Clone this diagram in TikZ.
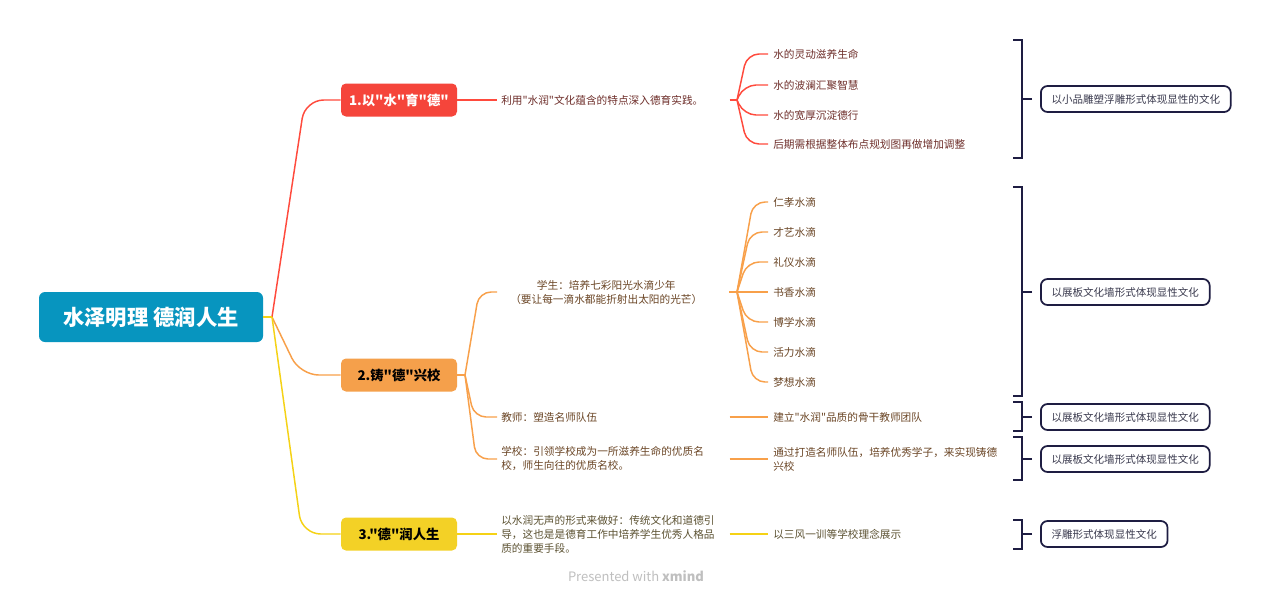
\documentclass[tikz,border=0pt]{standalone}
\usepackage{fontspec}
\setmainfont{Noto Sans CJK SC}[Ligatures=TeXOff]
\usetikzlibrary{calc}
\definecolor{rootc}{HTML}{0795BF}
\definecolor{redc}{HTML}{F5453B}
\definecolor{redl}{HTML}{FF4A3D}
\definecolor{orc}{HTML}{F5A04B}
\definecolor{orl}{HTML}{F8A04A}
\definecolor{yec}{HTML}{F3D126}
\definecolor{yel}{HTML}{F5D215}
\definecolor{navy}{HTML}{1E1D42}
\definecolor{tagtxt}{HTML}{3A3A4E}
\definecolor{rtxt}{HTML}{6E2E2A}
\definecolor{otxt}{HTML}{6B4626}
\definecolor{ytxt}{HTML}{5C5232}
\tikzset{
  rootbox/.style={fill=rootc, rounded corners=4.5pt, text=white, font=\fontsize{16}{19}\selectfont\bfseries, minimum width=168pt, minimum height=37.5pt, inner sep=0pt},
  brbox/.style={rounded corners=3.75pt, font=\fontsize{10}{12}\selectfont\bfseries, minimum width=87pt, minimum height=24.75pt, inner sep=0pt},
  subnode/.style={anchor=west, text width=168pt, inner xsep=3pt, inner ysep=0pt, align=left, font=\fontsize{8}{10.5}\selectfont},
  leaf/.style={anchor=west, inner xsep=3.75pt, inner ysep=0pt, align=left, font=\fontsize{8}{10.5}\selectfont},
  tag/.style={anchor=west, draw=navy, line width=1.3pt, rounded corners=5pt, inner xsep=8pt, minimum height=19.5pt, inner ysep=0pt, text=tagtxt, font=\fontsize{7.9}{10.5}\selectfont},
  ln/.style={line width=1.1pt},
  conn/.style={line width=1.1pt, rounded corners=14pt},
  sconn/.style={line width=1.1pt, rounded corners=9pt},
  brk/.style={draw=navy, line width=1.5pt},
}
\begin{document}
\begin{tikzpicture}[x=0.75pt,y=-0.75pt]
\useasboundingbox[fill=white] (0,0) rectangle (1273,600);

% root
\node[rootbox] (root) at (151,317) {水泽明理 德润人生};
\coordinate (rf) at (272,317);

% branches
\node[brbox, fill=redc, text=white] (b1) at (399,100) {1.以"水"育"德"};
\node[brbox, fill=orc, text=black] (b2) at (399,375) {2.铸"德"兴校};
\node[brbox, fill=yec, text=black] (b3) at (399,534) {3."德"润人生};

\draw[conn, draw=redl] (rf) -- (305,100) -- (b1.west);
\draw[conn, draw=orl] (rf) -- (300,375) -- (b2.west);
\draw[conn, draw=yel] (rf) -- (302,534) -- (b3.west);
\draw[ln, draw=yel] (root.east) -- (rf);

% ---------- branch 1
\node[subnode, text=rtxt] (s1) at (497,100) {利用"水润"文化蕴含的特点深入德育实践。};
\draw[ln, draw=redl] (b1.east) -- (s1.west);
\coordinate (f1) at (737,100);
\node[leaf, text=rtxt] (l11) at (768,54) {水的灵动滋养生命};
\node[leaf, text=rtxt] (l12) at (768,85) {水的波澜汇聚智慧};
\node[leaf, text=rtxt] (l13) at (768,115) {水的宽厚沉淀德行};
\node[leaf, text=rtxt] (l14) at (768,144) {后期需根据整体布点规划图再做增加调整};
\draw[ln, draw=redl] (s1.east) -- (f1);
\draw[sconn, draw=redl] (f1) -- (747,54) -- (l11.west);
\draw[sconn, draw=redl] (f1) -- (744,85) -- (l12.west);
\draw[sconn, draw=redl] (f1) -- (744,115) -- (l13.west);
\draw[sconn, draw=redl] (f1) -- (747,144) -- (l14.west);

% ---------- branch 2
\coordinate (f2) at (465,375);
\node[subnode, text=otxt, align=center] (s21) at (490,292) {学生：培养七彩阳光水滴少年\\（要让每一滴水都能折射出太阳的光芒）};
\coordinate (s21w) at (497,292);
\node[subnode, text=otxt] (s22) at (497,417) {教师：塑造名师队伍};
\node[subnode, text=otxt] (s23) at (497,459) {学校：引领学校成为一所滋养生命的优质名\\校，师生向往的优质名校。};
\draw[ln, draw=orl] (b2.east) -- (f2);
\draw[sconn, draw=orl] (f2) -- (479,292) -- (s21w);
\draw[sconn, draw=orl] (f2) -- (474,417) -- (s22.west);
\draw[sconn, draw=orl] (f2) -- (476,459) -- (s23.west);

\coordinate (f21) at (737,292);
\coordinate (s21e) at (729,292);
\node[leaf, text=otxt] (l1) at (768,202) {仁孝水滴};
\node[leaf, text=otxt] (l2) at (768,232) {才艺水滴};
\node[leaf, text=otxt] (l3) at (768,262) {礼仪水滴};
\node[leaf, text=otxt] (l4) at (768,292) {书香水滴};
\node[leaf, text=otxt] (l5) at (768,322) {博学水滴};
\node[leaf, text=otxt] (l6) at (768,352) {活力水滴};
\node[leaf, text=otxt] (l7) at (768,382) {梦想水滴};
\draw[ln, draw=orl] (s21e) -- (l4.west);
\draw[sconn, draw=orl] (f21) -- (753,202) -- (l1.west);
\draw[sconn, draw=orl] (f21) -- (750,232) -- (l2.west);
\draw[sconn, draw=orl] (f21) -- (747,262) -- (l3.west);
\draw[sconn, draw=orl] (f21) -- (747,322) -- (l5.west);
\draw[sconn, draw=orl] (f21) -- (750,352) -- (l6.west);
\draw[sconn, draw=orl] (f21) -- (753,382) -- (l7.west);

\node[leaf, text=otxt] (l8) at (768,417) {建立"水润"品质的骨干教师团队};
\node[leaf, text=otxt] (l9) at (768,459) {通过打造名师队伍，培养优秀学子，来实现铸德\\兴校};
\draw[ln, draw=orl] (s22.east) -- (l8.west);
\draw[ln, draw=orl] (s23.east) -- (l9.west);

% ---------- branch 3
\node[subnode, text=ytxt] (s3) at (497,534) {以水润无声的形式来做好：传统文化和道德引\\导，这也是是德育工作中培养学生优秀人格品\\质的重要手段。};
\draw[ln, draw=yel] (b3.east) -- (s3.west);
\node[leaf, text=ytxt] (l10) at (768,534) {以三风一训等学校理念展示};
\draw[ln, draw=yel] (s3.east) -- (l10.west);

% ---------- brackets and tags
\node[tag] (t1) at (1040,99) {以小品雕塑浮雕形式体现显性的文化};
\node[tag] (t2) at (1040,292) {以展板文化墙形式体现显性文化};
\node[tag] (t3) at (1040,417) {以展板文化墙形式体现显性文化};
\node[tag] (t4) at (1040,459) {以展板文化墙形式体现显性文化};
\node[tag] (t5) at (1040,534) {浮雕形式体现显性文化};

\coordinate (k1) at (1022,99);
\coordinate (k2) at (1022,292);
\coordinate (k3) at (1022,417);
\coordinate (k4) at (1022,459);
\coordinate (k5) at (1022,534);
\draw[brk] (1013,40) -- (1022,40) -- (1022,158) -- (1013,158);
\draw[brk] (1013,187) -- (1022,187) -- (1022,396) -- (1013,396);
\draw[brk] (1013,402) -- (1022,402) -- (1022,431) -- (1013,431);
\draw[brk] (1013,437) -- (1022,437) -- (1022,480) -- (1013,480);
\draw[brk] (1013,520) -- (1022,520) -- (1022,549) -- (1013,549);
\draw[brk, shorten <=6pt] (t1.west) -- (k1);
\draw[brk, shorten <=6pt] (t2.west) -- (k2);
\draw[brk, shorten <=6pt] (t3.west) -- (k3);
\draw[brk, shorten <=6pt] (t4.west) -- (k4);
\draw[brk, shorten <=6pt] (t5.west) -- (k5);

% watermark
\node[text=black!25, font=\fontsize{9.75}{11}\selectfont] (wm) at (636,576) {Presented with \textbf{xmind}};
\end{tikzpicture}
\end{document}
